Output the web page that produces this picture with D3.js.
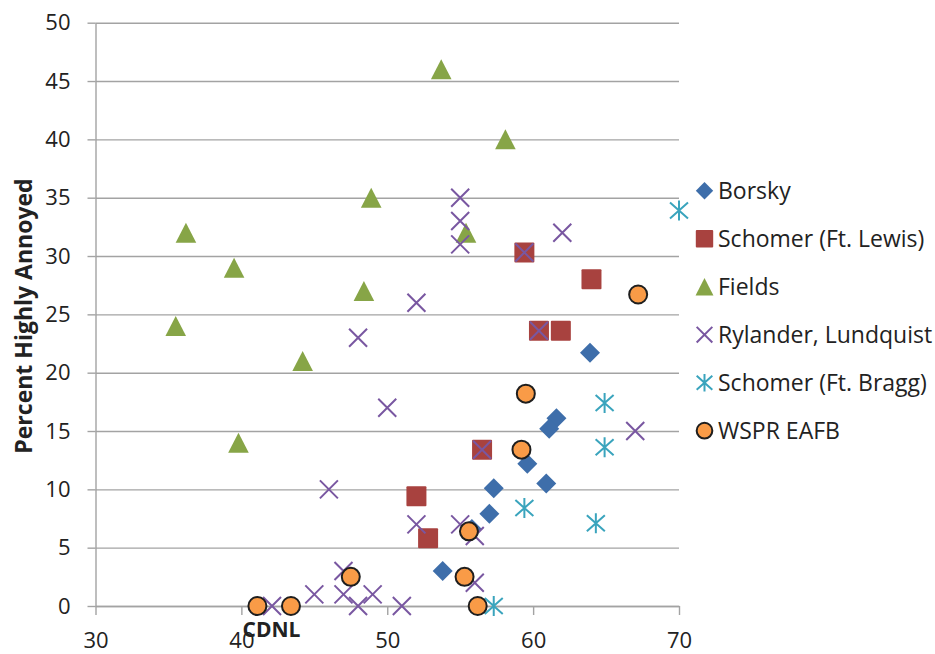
<!DOCTYPE html>
<html><head><meta charset="utf-8">
<script src="https://cdn.jsdelivr.net/npm/d3@7"></script>
<style>
html,body{margin:0;padding:0;background:#fff;}
svg{display:block;font-family:"Open Sans",sans-serif;}
</style></head>
<body><svg id="c" width="935" height="654"></svg>
<script>
// ---- data ----
const seriesNames = ["Borsky","Schomer (Ft. Lewis)","Fields","Rylander, Lundquist","Schomer (Ft. Bragg)","WSPR EAFB"];
const borsky = [[63.9,21.7],[61.6,16.1],[61.1,15.2],[59.6,12.2],[60.9,10.5],[57.3,10.1],[57.0,7.9],[53.8,3.0],[55.8,6.6]];
const ftLewis = [[59.4,30.3],[64.0,28.0],[60.4,23.6],[61.9,23.6],[56.5,13.4],[52.0,9.4],[52.8,5.8]];
const fields = [[36.2,32],[39.5,29],[35.5,24],[44.2,21],[39.8,14],[53.7,46],[58.1,40],[48.9,35],[48.4,27],[55.4,32]];
const rylander = [[55,35],[55,33],[55,31],[59.4,30.3],[62,32],[52,26],[48,23],[60.4,23.6],[50,17],[67,15],[56.5,13.4],[46,10],[52,7],[55,7],[56,6],[47,3],[56,2],[45,1],[47,1],[49,1],[48,0],[51,0],[42.1,0]];
const ftBragg = [[70,33.9],[64.9,17.4],[64.9,13.6],[59.4,8.4],[64.3,7.1],[57.3,0]];
const wspr = [[67.2,26.7],[59.5,18.2],[59.2,13.4],[55.6,6.4],[55.3,2.5],[47.5,2.5],[56.2,0],[41.1,0],[43.4,0]];
const xTicks = [30,40,50,60,70];
const yTicks = [0,5,10,15,20,25,30,35,40,45,50];
const xTitle = "CDNL";
const yTitle = "Percent Highly Annoyed";

// ---- styles ----
const styles = [
  {shape:"diamond", fill:"#3E6EAA"},
  {shape:"square", fill:"#A8423F"},
  {shape:"triangle", fill:"#87A547"},
  {shape:"x", stroke:"#7957A1"},
  {shape:"asterisk", stroke:"#3AA4BD"},
  {shape:"circle", fill:"#F99B47", stroke:"#1E1E1E"}
];
const allSeries = [borsky, ftLewis, fields, rylander, ftBragg, wspr];

const svg = d3.select("#c");
const x = d3.scaleLinear().domain([30,70]).range([95.5,679]);
const y = d3.scaleLinear().domain([0,50]).range([606,22.7]);
const gridColor = "#A3A3A3";
const textColor = "#222222";

// gridlines
const grid = svg.append("g").attr("transform",`translate(${x(30)},0)`)
  .call(d3.axisLeft(y).tickValues(yTicks).tickSize(-(x(70)-x(30))).tickFormat(""));
grid.select(".domain").remove();
grid.selectAll("line").attr("stroke",gridColor).attr("stroke-width",1.4);

// y axis ticks and labels
const ya = svg.append("g").attr("transform",`translate(${x(30)},0)`)
  .call(d3.axisLeft(y).tickValues(yTicks).tickSize(8).tickSizeOuter(0).tickPadding(17));
ya.select(".domain").attr("stroke",gridColor).attr("stroke-width",1.4);
ya.selectAll("line").attr("stroke",gridColor).attr("stroke-width",1.4);
ya.selectAll("text").attr("font-size",22).attr("fill",textColor).attr("font-family","Open Sans");

// x axis
const xa = svg.append("g").attr("transform",`translate(0,${y(0)})`)
  .call(d3.axisBottom(x).tickValues(xTicks).tickSize(9).tickSizeOuter(0).tickPadding(17));
xa.select(".domain").attr("stroke",gridColor).attr("stroke-width",1.4);
xa.selectAll("line").attr("stroke",gridColor).attr("stroke-width",1.4);
xa.selectAll("text").attr("font-size",22).attr("fill",textColor).attr("font-family","Open Sans");

// axis titles
svg.append("text").attr("x",271.5).attr("y",637).attr("text-anchor","middle")
  .attr("font-size",21).attr("font-weight","bold").attr("fill",textColor).text(xTitle);
svg.append("text").attr("transform","translate(32,316) rotate(-90)").attr("text-anchor","middle")
  .attr("font-size",23).attr("font-weight","bold").attr("fill",textColor).text(yTitle);

// marker drawing
function drawMarker(g, shape, st, s){
  if(shape==="diamond") g.append("path").attr("d",`M0,${-10*s}L${10*s},0L0,${10*s}L${-10*s},0Z`).attr("fill",st.fill);
  else if(shape==="square") g.append("rect").attr("x",-10*s).attr("y",-10*s).attr("width",20*s).attr("height",20*s).attr("rx",1).attr("fill",st.fill);
  else if(shape==="triangle") g.append("path").attr("d",`M0,${-10*s}L${10.3*s},${10*s}L${-10.3*s},${10*s}Z`).attr("fill",st.fill);
  else if(shape==="x") g.append("path").attr("d",`M${-9*s},${-9*s}L${9*s},${9*s}M${9*s},${-9*s}L${-9*s},${9*s}`).attr("stroke",st.stroke).attr("stroke-width",2).attr("fill","none");
  else if(shape==="asterisk") g.append("path").attr("d",`M0,${-10*s}L0,${10*s}M${-9*s},${-8*s}L${9*s},${8*s}M${9*s},${-8*s}L${-9*s},${8*s}`).attr("stroke",st.stroke).attr("stroke-width",2).attr("fill","none");
  else if(shape==="circle") g.append("circle").attr("r",9*s).attr("fill",st.fill).attr("stroke",st.stroke).attr("stroke-width",2);
}

allSeries.forEach((data,i)=>{
  const st = styles[i];
  const g = svg.append("g").attr("class","series s"+i);
  g.selectAll("g.pt").data(data).join("g").attr("class","pt")
    .attr("transform",d=>`translate(${x(d[0])},${y(d[1])})`)
    .each(function(){ drawMarker(d3.select(this), st.shape, st, 1); });
});

// legend
const legendY = d3.scaleLinear().domain([0,5]).range([190.7,430.7]);
const lg = svg.append("g");
seriesNames.forEach((name,i)=>{
  const row = lg.append("g").attr("transform",`translate(704.5,${legendY(i)})`);
  drawMarker(row, styles[i].shape, styles[i], 0.87);
  row.append("text").attr("x",13.5).attr("dy","0.35em").attr("font-size",23).attr("fill",textColor).text(name);
});
</script></body></html>
